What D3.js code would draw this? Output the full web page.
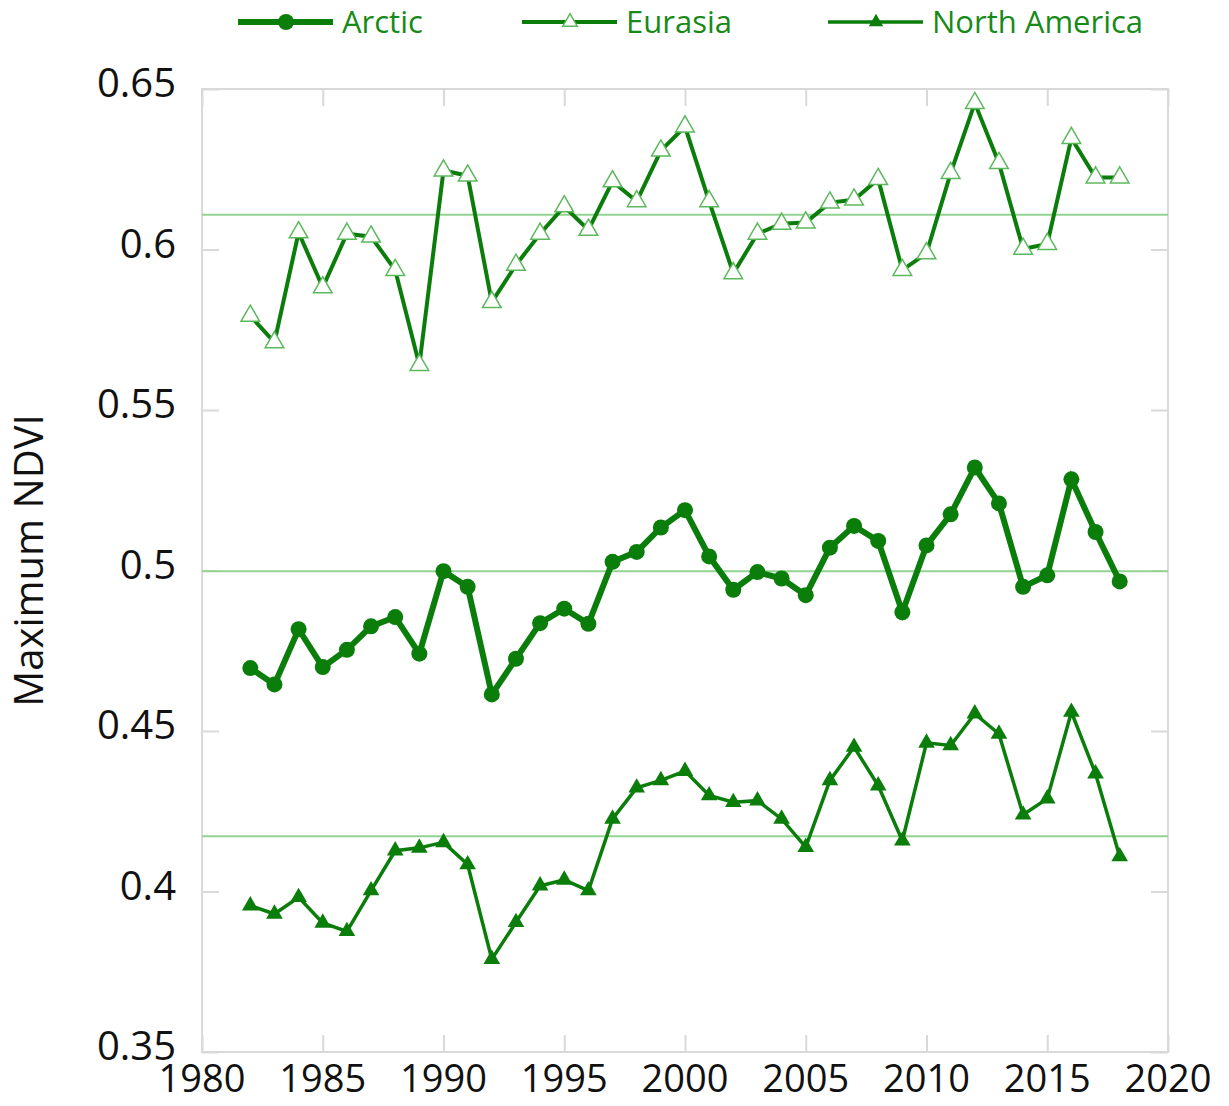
<!DOCTYPE html>
<meta charset="utf-8">
<style>
  body { margin: 0; background: #fff; }
  text { font-family: "Open Sans", "DejaVu Sans", sans-serif; }
</style>
<body>
<script src="https://d3js.org/d3.v7.min.js"></script>
<script>

// values
var years = d3.range(1982, 2019);

var arctic = [0.4696, 0.4645, 0.4817, 0.4699, 0.4753, 0.4826, 0.4855, 0.4741, 0.4998, 0.4949,
              0.4614, 0.4725, 0.4836, 0.4881, 0.4834, 0.5027, 0.5058, 0.5134, 0.5188, 0.5044,
              0.4940, 0.4995, 0.4975, 0.4923, 0.5071, 0.5139, 0.5092, 0.4870, 0.5078, 0.5175,
              0.5321, 0.5209, 0.4949, 0.4985, 0.5284, 0.5120, 0.4966];

var eurasia = [0.5793, 0.5711, 0.6053, 0.5882, 0.6049, 0.6040, 0.5936, 0.5640, 0.6246, 0.6230,
               0.5836, 0.5952, 0.6049, 0.6134, 0.6061, 0.6212, 0.6150, 0.6308, 0.6383, 0.6150,
               0.5926, 0.6049, 0.6080, 0.6084, 0.6146, 0.6155, 0.6219, 0.5936, 0.5988, 0.6238,
               0.6456, 0.6269, 0.6002, 0.6017, 0.6347, 0.6224, 0.6224];

var northAmerica = [0.3956, 0.3930, 0.3982, 0.3902, 0.3876, 0.4003, 0.4127, 0.4136, 0.4153, 0.4084,
                    0.3789, 0.3904, 0.4018, 0.4036, 0.4003, 0.4226, 0.4323, 0.4346, 0.4375, 0.4299,
                    0.4278, 0.4283, 0.4226, 0.4138, 0.4346, 0.4450, 0.4330, 0.4158, 0.4463, 0.4455,
                    0.4554, 0.4491, 0.4239, 0.4289, 0.4559, 0.4367, 0.4109];

// long-term means (horizontal reference lines)
var means = [0.6108, 0.4998, 0.4172];

var xTicks = d3.range(1980, 2021, 5);
var yTicks = [0.35, 0.4, 0.45, 0.5, 0.55, 0.6, 0.65];

var dark = "#0b7d0b",
    light = "#5cb85c",
    meanColor = "#92d392",
    frame = "#d9d9d9";

var width = 1229, height = 1106;
var margin = {top: 89, right: 61, bottom: 54, left: 202};
var w = width - margin.left - margin.right,
    h = height - margin.top - margin.bottom;

var x = d3.scaleLinear().domain([1980, 2020]).range([0, w]);
var y = d3.scaleLinear().domain([0.35, 0.65]).range([h, 0]);

var svg = d3.select("body").append("svg")
    .attr("width", width)
    .attr("height", height);

var g = svg.append("g")
    .attr("transform", "translate(" + margin.left + "," + margin.top + ")");

// frame with ticks on all four sides, pointing inward
function styleAxis(sel) {
  sel.select(".domain").remove();
  sel.selectAll("line").attr("stroke", frame).attr("stroke-width", 2);
  sel.selectAll("text").remove();
}
g.append("g").attr("transform", "translate(0," + h + ")")
    .call(d3.axisTop(x).tickValues(xTicks).tickSize(17)).call(styleAxis);
g.append("g")
    .call(d3.axisBottom(x).tickValues(xTicks).tickSize(17)).call(styleAxis);
g.append("g")
    .call(d3.axisRight(y).tickValues(yTicks).tickSize(17)).call(styleAxis);
g.append("g").attr("transform", "translate(" + w + ",0)")
    .call(d3.axisLeft(y).tickValues(yTicks).tickSize(17)).call(styleAxis);
g.append("rect")
    .attr("width", w).attr("height", h)
    .attr("fill", "none").attr("stroke", frame).attr("stroke-width", 2);

// tick labels
g.selectAll(".ylab").data(yTicks).enter().append("text")
    .attr("x", -26)
    .attr("y", function(d) { return y(d) - 6; })
    .attr("dy", "0.35em")
    .attr("text-anchor", "end")
    .style("font-size", "40px")
    .attr("fill", "#111")
    .text(function(d) { return d3.format("")(+d.toFixed(2)); });

g.selectAll(".xlab").data(xTicks).enter().append("text")
    .attr("x", function(d) { return x(d); })
    .attr("y", h + 40)
    .attr("text-anchor", "middle")
    .style("font-size", "38px")
    .attr("fill", "#111")
    .text(function(d) { return d; });

svg.append("text")
    .attr("transform", "translate(43," + (margin.top + h / 2 - 10) + ") rotate(-90)")
    .attr("text-anchor", "middle")
    .style("font-size", "40px")
    .attr("fill", "#111")
    .text("Maximum NDVI");

// mean lines
g.selectAll(".mean").data(means).enter().append("line")
    .attr("x1", 0).attr("x2", w)
    .attr("y1", function(d) { return y(d); })
    .attr("y2", function(d) { return y(d); })
    .attr("stroke", meanColor).attr("stroke-width", 2);

var line = d3.line()
    .x(function(d, i) { return x(years[i]); })
    .y(function(d) { return y(d); });

var tri = d3.symbol().type(d3.symbolTriangle);

// Eurasia
g.append("path").datum(eurasia)
    .attr("d", line).attr("fill", "none")
    .attr("stroke", dark).attr("stroke-width", 4);
g.selectAll(".eu").data(eurasia).enter().append("path")
    .attr("d", tri.size(150)())
    .attr("transform", function(d, i) { return "translate(" + x(years[i]) + "," + y(d) + ")"; })
    .attr("fill", "#fff").attr("stroke", light).attr("stroke-width", 1.5);

// Arctic
g.append("path").datum(arctic)
    .attr("d", line).attr("fill", "none")
    .attr("stroke", dark).attr("stroke-width", 6);
g.selectAll(".ar").data(arctic).enter().append("circle")
    .attr("cx", function(d, i) { return x(years[i]); })
    .attr("cy", function(d) { return y(d); })
    .attr("r", 8)
    .attr("fill", dark);

// North America
g.append("path").datum(northAmerica)
    .attr("d", line).attr("fill", "none")
    .attr("stroke", dark).attr("stroke-width", 3.5);
g.selectAll(".na").data(northAmerica).enter().append("path")
    .attr("d", tri.size(120)())
    .attr("transform", function(d, i) { return "translate(" + x(years[i]) + "," + y(d) + ")"; })
    .attr("fill", dark);

// legend
var legend = [
  {name: "Arctic", x: 238, width: 6, marker: "circle"},
  {name: "Eurasia", x: 522, width: 4, marker: "open"},
  {name: "North America", x: 828, width: 3.5, marker: "filled"}
];
var lg = svg.append("g").attr("transform", "translate(0,22)");
legend.forEach(function(d) {
  lg.append("line")
      .attr("x1", d.x).attr("x2", d.x + 95)
      .attr("stroke", dark).attr("stroke-width", d.width);
  if (d.marker == "circle") {
    lg.append("circle").attr("cx", d.x + 48).attr("r", 8).attr("fill", dark);
  } else if (d.marker == "open") {
    lg.append("path").attr("d", tri.size(90)())
        .attr("transform", "translate(" + (d.x + 48) + ",0)")
        .attr("fill", "#fff").attr("stroke", light).attr("stroke-width", 1.5);
  } else {
    lg.append("path").attr("d", tri.size(90)())
        .attr("transform", "translate(" + (d.x + 48) + ",0)")
        .attr("fill", dark);
  }
  lg.append("text")
      .attr("x", d.x + 104)
      .attr("dy", "0.35em")
      .style("font-size", "31px")
      .attr("fill", "#178a17")
      .text(d.name);
});

</script>
</body>
